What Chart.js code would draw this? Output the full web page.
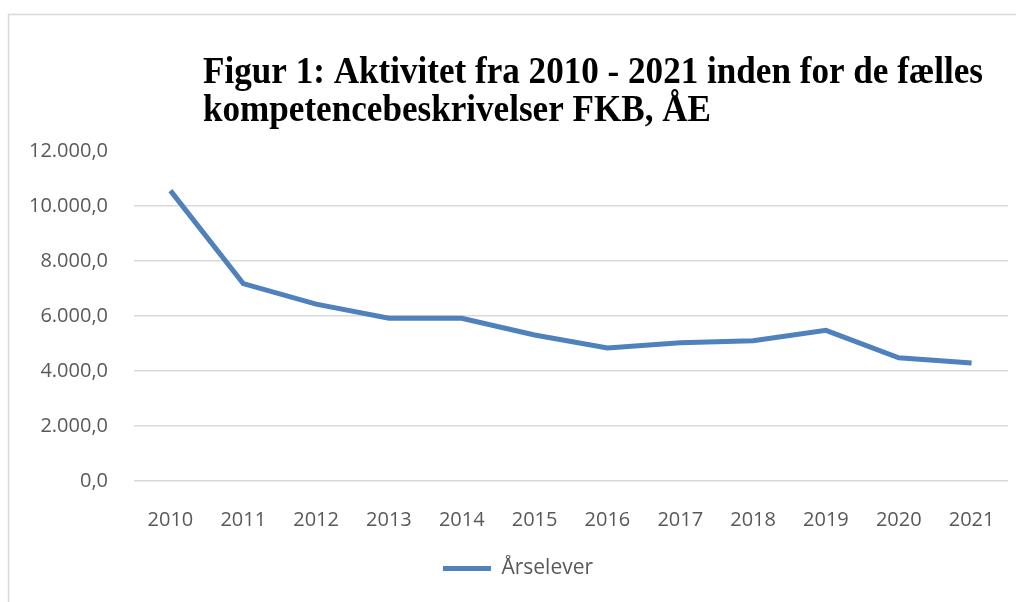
<!DOCTYPE html>
<html lang="da">
<head>
<meta charset="utf-8">
<title>Figur 1: Aktivitet FKB</title>
<script src="https://cdn.jsdelivr.net/npm/chart.js@4.4.0/dist/chart.umd.min.js"></script>
<style>
  html, body { margin: 0; padding: 0; background: #fff; }
  #wrap { position: relative; width: 1016px; height: 602px; }
</style>
</head>
<body>
<div id="wrap"><canvas id="fkbChart"></canvas></div>
<script>
// --- Data ---
const years = ['2010', '2011', '2012', '2013', '2014', '2015', '2016', '2017', '2018', '2019', '2020', '2021'];
const aarselever = [10560, 7180, 6430, 5920, 5920, 5310, 4840, 5030, 5100, 5480, 4480, 4290];
const yTicks = [0, 2000, 4000, 6000, 8000, 10000, 12000];
const seriesName = 'Årselever';
const titleLines = [
    'Figur 1: Aktivitet fra 2010 - 2021 inden for de fælles',
    'kompetencebeskrivelser FKB, ÅE'
];

const lineColor = '#4f81bd';
const gridColor = '#d9d9d9';
const textColor = '#595959';
const axisFont = { family: '"Open Sans", "Liberation Sans", sans-serif', size: 20 };

// 12000 -> "12.000,0"
const formatDa = (v) => {
    const [whole, dec] = v.toFixed(1).split('.');
    return whole.replace(/\B(?=(\d{3})+(?!\d))/g, '.') + ',' + dec;
};

// Frame + serif title, drawn on the canvas
const framePlugin = {
    id: 'frameAndTitle',
    afterLayout(chart) {
        // legend in the original sits a bit right of the canvas centre
        chart.legend.left += 20;
    },
    beforeDraw(chart) {
        const ctx = chart.ctx;
        ctx.save();
        ctx.strokeStyle = gridColor;
        ctx.lineWidth = 1.5;
        ctx.strokeRect(8.5, 14.5, 1100, 700);
        ctx.restore();
    },
    afterDraw(chart) {
        const ctx = chart.ctx;
        ctx.save();
        ctx.font = 'bold 37px "Liberation Serif", "DejaVu Serif", serif';
        ctx.fillStyle = '#000';
        ctx.textBaseline = 'alphabetic';
        const w = ctx.measureText(titleLines[0]).width;
        const sx = Math.min(1, 780 / w);
        ctx.translate(203, 0);
        ctx.scale(sx, 1);
        titleLines.forEach((line, i) => ctx.fillText(line, 0, 83 + i * 38));
        ctx.restore();
    }
};

const ctx = document.getElementById('fkbChart').getContext('2d');
new Chart(ctx, {
    type: 'line',
    data: {
        labels: years,
        datasets: [{
            label: seriesName,
            data: aarselever,
            borderColor: lineColor,
            backgroundColor: lineColor,
            borderWidth: 5,
            pointRadius: 0,
            pointHoverRadius: 0,
            tension: 0,
            fill: false
        }]
    },
    options: {
        responsive: true,
        maintainAspectRatio: false,
        devicePixelRatio: 1,
        animation: false,
        layout: {
            padding: { top: 151, left: 8, right: 8, bottom: 13 }
        },
        scales: {
            x: {
                offset: true,
                grid: { display: false },
                border: { display: false },
                ticks: { color: textColor, font: axisFont, padding: 19, maxRotation: 0 },
                afterFit: (scale) => { scale.height = 67; }
            },
            y: {
                min: 0,
                max: 12000,
                afterBuildTicks: (axis) => { axis.ticks = yTicks.map(v => ({ value: v })); },
                afterFit: (scale) => { scale.width = 126; },
                grid: {
                    drawTicks: false,
                    lineWidth: 1.5,
                    color: (c) => (c.tick && c.tick.value === 12000 ? 'rgba(0,0,0,0)' : gridColor)
                },
                border: { display: false },
                ticks: {
                    color: textColor,
                    font: axisFont,
                    padding: 26,
                    callback: (v) => formatDa(v)
                }
            }
        },
        plugins: {
            title: { display: false },
            tooltip: { enabled: false },
            legend: {
                position: 'bottom',
                labels: {
                    color: textColor,
                    font: { ...axisFont, size: 21 },
                    boxWidth: 48,
                    boxHeight: 5,
                    padding: 10,
                    generateLabels: (chart) => Chart.defaults.plugins.legend.labels.generateLabels(chart)
                        .map(l => ({ ...l, lineWidth: 0, fillStyle: lineColor }))
                }
            }
        }
    },
    plugins: [framePlugin]
});
</script>
</body>
</html>
